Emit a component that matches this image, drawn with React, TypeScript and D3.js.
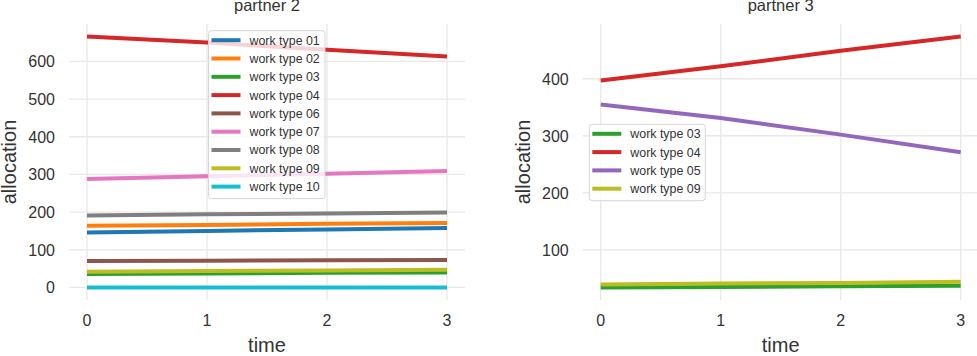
import React from 'react';
import * as d3 from 'd3';

const time = [0, 1, 2, 3];

// partner 2
const p2Names = ['work type 01', 'work type 02', 'work type 03', 'work type 04', 'work type 06', 'work type 07', 'work type 08', 'work type 09', 'work type 10'];
const p2Type01 = [146, 150, 154, 158];
const p2Type02 = [164, 166, 169, 171];
const p2Type03 = [36, 37, 39, 40];
const p2Type04 = [666, 650, 631, 613];
const p2Type06 = [70, 71, 72, 73];
const p2Type07 = [288, 295, 302, 309];
const p2Type08 = [191, 194, 196, 199];
const p2Type09 = [42, 44, 45, 47];
const p2Type10 = [0, 0, 0, 0];

// partner 3
const p3Names = ['work type 03', 'work type 04', 'work type 05', 'work type 09'];
const p3Type03 = [34, 35, 36, 37];
const p3Type04 = [397, 422, 449, 474];
const p3Type05 = [355, 331, 302, 271];
const p3Type09 = [39, 41, 42, 44];

const p2Ticks = [0, 100, 200, 300, 400, 500, 600];
const p3Ticks = [100, 200, 300, 400];

// tab10 colours by work type
const colorOf: Record<string, string> = {
  'work type 01': '#1f77b4',
  'work type 02': '#ff7f0e',
  'work type 03': '#2ca02c',
  'work type 04': '#d62728',
  'work type 05': '#9467bd',
  'work type 06': '#8c564b',
  'work type 07': '#e377c2',
  'work type 08': '#7f7f7f',
  'work type 09': '#bcbd22',
  'work type 10': '#17becf',
};

const FONT = '"Liberation Sans", Arial, Helvetica, sans-serif';
const TEXT = '#333333';
const GRID = '#ebe7e4';

type Panel = {
  title: string;
  names: string[];
  series: number[][];
  ticks: number[];
  left: number;
  legend: { x: number; y: number; w: number };
};

const panels: Panel[] = [
  {
    title: 'partner 2',
    names: p2Names,
    series: [p2Type01, p2Type02, p2Type03, p2Type04, p2Type06, p2Type07, p2Type08, p2Type09, p2Type10],
    ticks: p2Ticks,
    left: 69,
    legend: { x: 208.5, y: 30.7, w: 116.5 },
  },
  {
    title: 'partner 3',
    names: p3Names,
    series: [p3Type03, p3Type04, p3Type05, p3Type09],
    ticks: p3Ticks,
    left: 582.7,
    legend: { x: 589.3, y: 124.3, w: 116 },
  },
];

const TOP = 24;
const BOTTOM = 300;
const WIDTH = 396;

function ChartPanel({ p }: { p: Panel }) {
  const x = d3.scaleLinear().domain([-0.15, 3.15]).range([p.left, p.left + WIDTH]);
  const all = p.series.flat();
  const lo = d3.min(all) as number;
  const hi = d3.max(all) as number;
  const pad = (hi - lo) * 0.05;
  const y = d3.scaleLinear().domain([lo - pad, hi + pad]).range([BOTTOM, TOP]);
  const line = d3
    .line<number>()
    .x((_, i) => x(time[i]))
    .y((d) => y(d));

  const rowH = 18.3;
  const legH = 9.5 + (p.names.length - 1) * rowH + 12;
  const cx = p.left + WIDTH / 2;

  return (
    <g>
      {/* grid */}
      {time.map((t) => (
        <line key={'vx' + t} x1={x(t)} x2={x(t)} y1={TOP} y2={BOTTOM} stroke={GRID} strokeWidth={1.3} />
      ))}
      {p.ticks.map((t) => (
        <line key={'hy' + t} x1={p.left} x2={p.left + WIDTH} y1={y(t)} y2={y(t)} stroke={GRID} strokeWidth={1.3} />
      ))}
      {/* lines */}
      {p.series.map((s, i) => (
        <path key={p.names[i]} d={line(s) || ''} fill="none" stroke={colorOf[p.names[i]]} strokeWidth={4} />
      ))}
      {/* tick labels */}
      {time.map((t) => (
        <text key={'tx' + t} x={x(t)} y={326} textAnchor="middle" fontSize={16} fill={TEXT}>
          {t}
        </text>
      ))}
      {p.ticks.map((t) => (
        <text key={'ty' + t} x={p.left - 14} y={y(t)} dy="0.36em" textAnchor="end" fontSize={16} fill={TEXT}>
          {t}
        </text>
      ))}
      {/* axis labels */}
      <text x={cx} y={352} textAnchor="middle" fontSize={20} fill={TEXT}>
        time
      </text>
      <text
        transform={`translate(${p.left - 53},${(TOP + BOTTOM) / 2}) rotate(-90)`}
        textAnchor="middle"
        fontSize={20}
        fill={TEXT}
      >
        allocation
      </text>
      <text x={cx} y={11} textAnchor="middle" fontSize={16.5} fill={TEXT}>
        {p.title}
      </text>
      {/* legend */}
      <g transform={`translate(${p.legend.x},${p.legend.y})`}>
        <rect
          x={0}
          y={0}
          width={p.legend.w}
          height={legH}
          rx={3}
          fill="rgba(255,255,255,0.8)"
          stroke="#d6d6d6"
          strokeWidth={1}
        />
        {p.names.map((n, i) => (
          <g key={n} transform={`translate(0,${9.5 + i * rowH})`}>
            <line x1={3} x2={32} y1={0} y2={0} stroke={colorOf[n]} strokeWidth={4} />
            <text x={41} y={0} dy="0.36em" fontSize={12.4} fill={TEXT}>
              {n}
            </text>
          </g>
        ))}
      </g>
    </g>
  );
}

export default function App() {
  return (
    <svg
      width={977}
      height={356}
      style={{ position: 'absolute', left: 0, top: 0, background: '#fff', fontFamily: FONT }}
    >
      {panels.map((p) => (
        <ChartPanel key={p.title} p={p} />
      ))}
    </svg>
  );
}
